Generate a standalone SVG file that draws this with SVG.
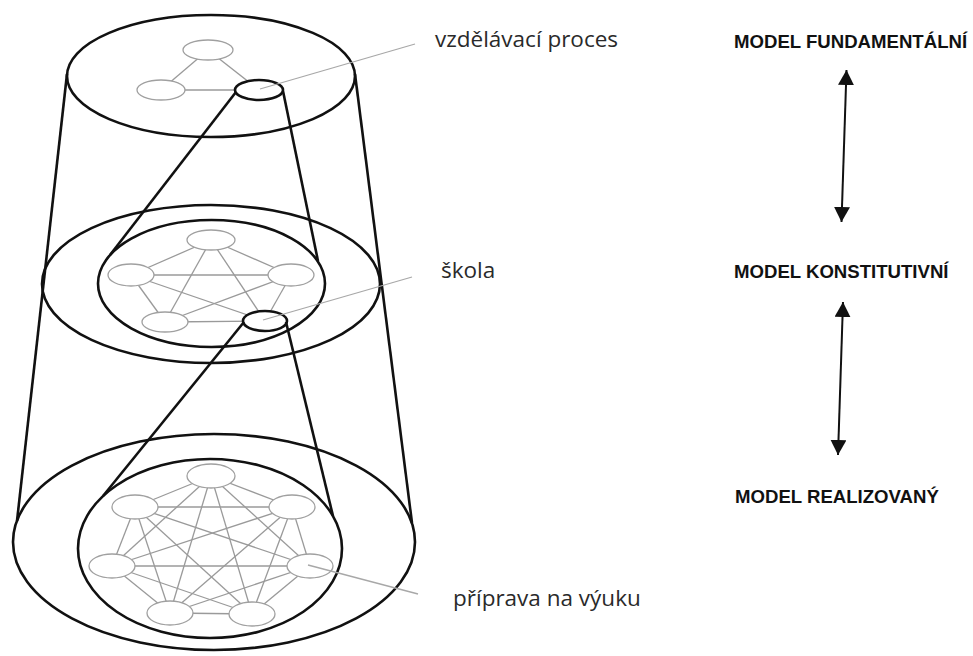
<svg xmlns="http://www.w3.org/2000/svg" width="973" height="656" viewBox="0 0 973 656">
<defs>
<style>
.bk{fill:none;stroke:#111;stroke-width:2.6}
.bkn{fill:#fff;stroke:#111;stroke-width:2.6}
.ed{stroke:#9a9a9a;stroke-width:1.3;fill:none}
.nd{fill:#fff;stroke:#a0a0a0;stroke-width:1.3}
.ld{stroke:#a8a8a8;stroke-width:1.3;fill:none}
.lbl{font-family:"Open Sans","DejaVu Sans",sans-serif;font-size:22.5px;fill:#2a2a2a}
.mdl{font-family:"Liberation Sans",Arial,sans-serif;font-weight:bold;font-size:18.6px;fill:#111}
.arr{stroke:#111;stroke-width:2;fill:none}
</style>
<marker id="ah" markerUnits="userSpaceOnUse" markerWidth="16" markerHeight="17" refX="15" refY="8" orient="auto-start-reverse">
<path d="M0,0 L15,8 L0,16 Z" fill="#111"/>
</marker>
</defs>
<rect width="973" height="656" fill="#fff"/>

<g id="level-top">
<ellipse class="bk" cx="211" cy="76" rx="144" ry="61"/>
<g id="graph-top">
<line class="ed" x1="208" y1="50" x2="161" y2="90"/>
<line class="ed" x1="208" y1="50" x2="259" y2="90"/>
<line class="ed" x1="161" y1="90" x2="259" y2="90"/>
<ellipse class="nd" cx="208" cy="50" rx="25" ry="10"/>
<ellipse class="nd" cx="161" cy="90" rx="24" ry="10"/>
<ellipse class="bkn" cx="259" cy="90" rx="24" ry="10"/>
</g>
</g>

<g id="level-middle">
<ellipse class="bk" cx="211" cy="284" rx="169" ry="79"/>
<ellipse class="bk" cx="211.5" cy="283.5" rx="113.5" ry="63.5"/>
<g id="graph-middle">
<line class="ed" x1="211" y1="240" x2="131" y2="275"/>
<line class="ed" x1="211" y1="240" x2="291" y2="275"/>
<line class="ed" x1="211" y1="240" x2="165" y2="322"/>
<line class="ed" x1="211" y1="240" x2="265" y2="321"/>
<line class="ed" x1="131" y1="275" x2="291" y2="275"/>
<line class="ed" x1="131" y1="275" x2="165" y2="322"/>
<line class="ed" x1="131" y1="275" x2="265" y2="321"/>
<line class="ed" x1="291" y1="275" x2="165" y2="322"/>
<line class="ed" x1="291" y1="275" x2="265" y2="321"/>
<line class="ed" x1="165" y1="322" x2="265" y2="321"/>
<ellipse class="nd" cx="211" cy="240" rx="24" ry="10"/>
<ellipse class="nd" cx="131" cy="275" rx="23" ry="11"/>
<ellipse class="nd" cx="291" cy="275" rx="23" ry="11"/>
<ellipse class="nd" cx="165" cy="322" rx="23" ry="10"/>
<ellipse class="bkn" cx="265" cy="321" rx="22" ry="10"/>
</g>
</g>

<g id="level-bottom">
<ellipse class="bk" cx="214" cy="542" rx="201" ry="108"/>
<ellipse class="bk" cx="210" cy="548.5" rx="132" ry="89.5"/>
<g id="graph-bottom">
<line class="ed" x1="211" y1="476" x2="135" y2="507"/>
<line class="ed" x1="211" y1="476" x2="292" y2="507"/>
<line class="ed" x1="211" y1="476" x2="112" y2="566"/>
<line class="ed" x1="211" y1="476" x2="310" y2="566"/>
<line class="ed" x1="211" y1="476" x2="170" y2="613"/>
<line class="ed" x1="211" y1="476" x2="252" y2="614"/>
<line class="ed" x1="135" y1="507" x2="292" y2="507"/>
<line class="ed" x1="135" y1="507" x2="112" y2="566"/>
<line class="ed" x1="135" y1="507" x2="310" y2="566"/>
<line class="ed" x1="135" y1="507" x2="170" y2="613"/>
<line class="ed" x1="135" y1="507" x2="252" y2="614"/>
<line class="ed" x1="292" y1="507" x2="112" y2="566"/>
<line class="ed" x1="292" y1="507" x2="310" y2="566"/>
<line class="ed" x1="292" y1="507" x2="170" y2="613"/>
<line class="ed" x1="292" y1="507" x2="252" y2="614"/>
<line class="ed" x1="112" y1="566" x2="310" y2="566"/>
<line class="ed" x1="112" y1="566" x2="170" y2="613"/>
<line class="ed" x1="112" y1="566" x2="252" y2="614"/>
<line class="ed" x1="310" y1="566" x2="170" y2="613"/>
<line class="ed" x1="310" y1="566" x2="252" y2="614"/>
<line class="ed" x1="170" y1="613" x2="252" y2="614"/>
<ellipse class="nd" cx="211" cy="476" rx="24" ry="12"/>
<ellipse class="nd" cx="135" cy="507" rx="23" ry="12"/>
<ellipse class="nd" cx="292" cy="507" rx="23" ry="12"/>
<ellipse class="nd" cx="112" cy="566" rx="23" ry="12"/>
<ellipse class="nd" cx="310" cy="566" rx="23" ry="12"/>
<ellipse class="nd" cx="170" cy="613" rx="23" ry="12"/>
<ellipse class="nd" cx="252" cy="614" rx="23" ry="12"/>
</g>
</g>

<g id="connectors">
<line class="bk" x1="67" y1="74" x2="17" y2="521"/>
<line class="bk" x1="355" y1="74" x2="412" y2="523"/>
<line class="bk" x1="236" y1="92" x2="110" y2="255"/>
<line class="bk" x1="283" y1="91" x2="318" y2="261"/>
<line class="bk" x1="244" y1="322" x2="103" y2="496"/>
<line class="bk" x1="286" y1="322" x2="333" y2="516"/>
<line class="ld" x1="260" y1="89" x2="415" y2="44"/>
<line class="ld" x1="263" y1="320" x2="412" y2="277"/>
<line class="ld" x1="308" y1="565" x2="418" y2="594"/>
<line class="arr" x1="846.5" y1="70" x2="841.5" y2="222" marker-start="url(#ah)" marker-end="url(#ah)"/>
<line class="arr" x1="843" y1="302" x2="838" y2="455" marker-start="url(#ah)" marker-end="url(#ah)"/>
</g>

<g id="labels">
<text class="lbl" x="435" y="47">vzdělávací proces</text>
<text class="lbl" x="441" y="278">škola</text>
<text class="lbl" x="453" y="606">příprava na výuku</text>
</g>

<g id="model-fundamentalni"><text class="mdl" x="734" y="48">MODEL FUNDAMENTÁLNÍ</text></g>
<g id="model-konstitutivni"><text class="mdl" x="734" y="278">MODEL KONSTITUTIVNÍ</text></g>
<g id="model-realizovany"><text class="mdl" x="735" y="503">MODEL REALIZOVANÝ</text></g>
</svg>
